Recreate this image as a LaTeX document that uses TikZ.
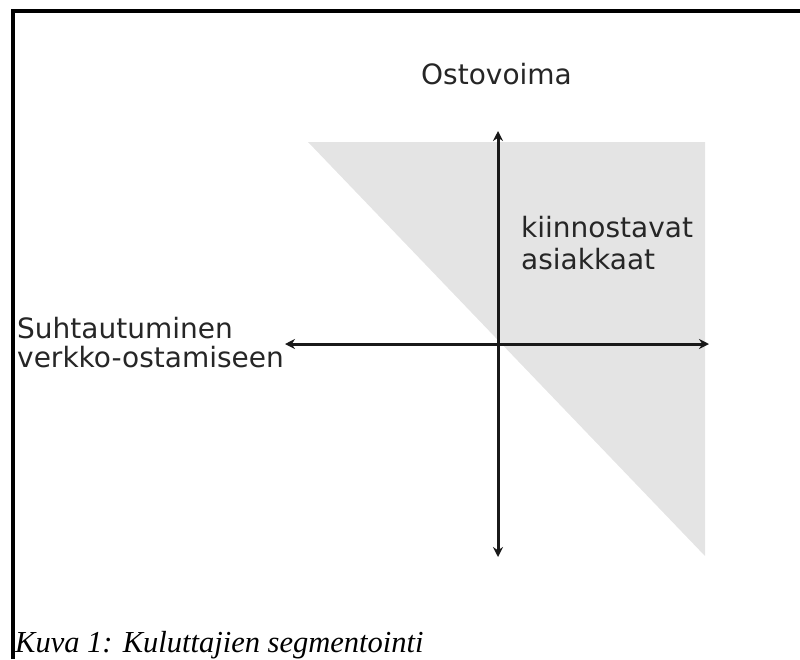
\documentclass[tikz,border=0pt]{standalone}
\usepackage{fontspec}
\setmainfont{Liberation Serif}
\newfontfamily\axfont{DejaVu Sans}
\usetikzlibrary{arrows.meta}
\definecolor{regiongray}{RGB}{228,228,228}
\definecolor{axcol}{RGB}{25,25,25}
\tikzset{
  axisline/.style={line width=3pt, draw=axcol, {Stealth[length=10pt,width=10pt]}-{Stealth[length=10pt,width=10pt]}},
  lbl/.style={anchor=base west, inner sep=0pt, font=\axfont\fontsize{28}{32}\selectfont, text=black!85},
  captionstyle/.style={anchor=base west, inner sep=0pt, font=\itshape\fontsize{30.5}{34}\selectfont},
  frameline/.style={line width=3.5pt, draw=black}
}
\begin{document}
\begin{tikzpicture}[x=1pt,y=-1pt]
\useasboundingbox (0,0) rectangle (800,659);
% shaded region
\fill[regiongray] (308,142) -- (705,142) -- (705,556) -- cycle;
% frame
\draw[frameline] (13,659) -- (13,11) -- (800,11);
% axes
\coordinate (top) at (498,131);
\coordinate (bot) at (498,557);
\coordinate (left) at (285,344);
\coordinate (right) at (709,344);
\draw[axisline] (bot) -- (top);
\draw[axisline] (left) -- (right);
% labels
\node[lbl] (ost) at (421,84) {Ostovoima};
\node[lbl] (kii) at (521,237) {kiinnostavat};
\node[lbl] (asi) at (521,269) {asiakkaat};
\node[lbl] (suh) at (17,338) {Suhtautuminen};
\node[lbl] (ver) at (17,367) {verkko-ostamiseen};
\node[captionstyle] (caption) at (15,652) {Kuva 1: Kuluttajien segmentointi};
\end{tikzpicture}
\end{document}
